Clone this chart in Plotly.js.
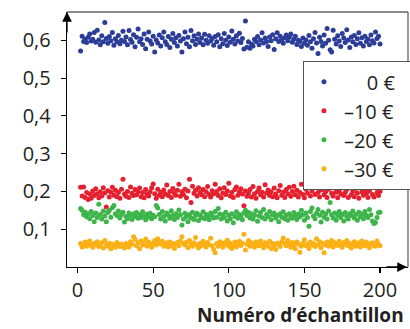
<!DOCTYPE html>
<html>
<head>
<meta charset="utf-8">
<script src="https://cdn.plot.ly/plotly-3.0.1.min.js"></script>
<style>html,body{margin:0;padding:0;background:#fff;}#chart{width:410px;height:329px;}</style>
</head>
<body>
<div id="chart"></div>
<script>
// Sample numbers (x) : 2 .. 200
const firstSample = 2;
const lastSample = 200;

// Series values, in thousandths
const blue0 = [572,611,597,603,594,608,617,598,603,621,595,627,601,588,612,596,647,605,592,610,
599,621,587,604,596,613,591,600,624,597,609,588,626,602,595,615,583,608,630,596,
604,589,617,578,603,622,598,590,611,569,601,593,614,585,607,622,596,589,610,581,
603,618,594,607,585,613,598,569,604,622,591,608,583,626,599,612,589,603,617,594,
606,588,616,600,592,612,598,605,587,610,596,615,583,604,591,618,600,586,609,595,
625,603,590,612,598,619,594,605,577,651,582,596,579,590,585,603,597,610,588,601,
620,593,606,597,584,609,599,615,576,604,620,597,611,602,592,607,614,599,608,617,
595,603,611,589,600,597,584,606,592,601,587,613,596,579,604,621,593,565,608,597,
585,614,592,631,600,575,569,627,603,590,612,598,584,618,606,594,628,601,581,609,
596,613,589,604,620,592,607,585,611,597,603,588,614,599,593,622,605,611,590];

const red10 = [211,188,212,184,197,179,193,182,201,189,207,194,183,199,188,210,196,159,202,185,
198,211,190,203,186,197,182,206,232,193,187,200,184,212,195,189,205,191,199,209,
186,197,183,205,193,188,199,210,220,194,182,206,190,198,186,204,193,217,189,200,
184,208,196,190,203,219,187,199,192,206,183,201,232,171,214,195,203,188,210,197,
191,205,186,199,213,192,185,202,194,219,200,189,207,183,196,210,192,201,222,188,
197,184,205,212,190,199,207,193,162,201,187,196,205,185,213,194,182,200,209,191,
198,185,218,196,204,189,199,186,209,193,183,202,216,190,198,184,205,194,211,187,
200,214,191,203,185,197,219,192,183,206,195,213,188,201,210,192,216,197,185,204,
214,191,199,184,206,227,195,188,209,198,183,202,193,210,189,197,205,184,214,191,
200,186,208,195,182,227,199,190,206,195,184,201,216,192,185,210,197,189,200];

const green20 = [155,150,138,145,133,141,128,147,136,120,143,131,166,139,127,148,135,120,144,150,
132,157,163,141,136,148,130,139,145,119,134,128,143,137,126,141,133,144,129,138,
131,146,135,125,140,132,142,128,137,133,163,156,139,127,147,134,122,143,137,129,
149,136,126,141,131,151,138,111,127,142,133,120,139,130,145,126,136,142,123,137,
131,146,128,139,134,125,143,136,130,147,132,155,140,127,138,131,145,122,137,128,
141,117,134,146,129,139,133,125,143,150,136,145,130,141,127,137,149,121,135,144,
131,152,127,139,134,147,125,138,143,130,136,120,141,132,146,128,137,124,141,134,
129,144,136,126,140,133,150,138,124,143,131,108,147,156,135,128,142,152,137,119,
145,132,140,127,148,171,138,130,143,124,136,147,131,139,122,144,134,127,141,136,
148,130,139,124,145,133,140,128,147,136,131,152,138,122,115,118,131,144,145];

const orange30 = [62,53,58,66,55,61,69,57,52,63,59,67,54,60,64,50,70,58,55,63,
48,60,57,52,65,59,54,61,56,50,62,58,53,67,60,80,73,56,64,48,
69,58,62,74,55,66,60,52,63,70,58,75,64,61,68,55,59,64,53,66,
57,62,49,60,65,56,69,80,62,58,66,51,70,60,55,64,78,58,50,63,
57,68,61,53,65,59,76,56,46,38,62,55,67,59,52,64,60,71,55,63,
49,58,66,53,61,68,57,63,87,45,60,70,55,64,58,52,66,61,56,69,
58,51,64,60,55,68,49,62,57,46,63,59,54,67,77,63,56,70,60,52,
65,58,48,66,61,39,55,63,72,57,60,49,66,58,62,54,75,59,67,51,
63,38,58,66,55,61,70,53,64,59,57,68,62,52,65,60,70,56,63,50,
61,67,55,59,64,53,69,60,56,66,58,51,62,64,57,55,69,60,56];

const seriesNames = ['\u2007\u20070\u00a0€', '–10\u00a0€', '–20\u00a0€', '–30\u00a0€'];
const seriesColors = ['#2b3d98', '#e5202e', '#3db54a', '#fbb016'];
const seriesData = [blue0, red10, green20, orange30];

const xTickVals = [0, 50, 100, 150, 200];
const yTickVals = [0.1, 0.2, 0.3, 0.4, 0.5, 0.6];
const xTitle = 'Numéro d’échantillon';

const samples = [];
for (let s = firstSample; s <= lastSample; s++) samples.push(s);

const traces = seriesData.map((vals, i) => ({
  type: 'scatter',
  mode: 'markers',
  name: seriesNames[i] + '\u00a0\u00a0\u2009',
  x: samples.slice(0, vals.length),
  y: vals.map(v => v / 1000),
  marker: {color: seriesColors[i], size: 5},
  hoverinfo: 'skip'
}));

const txt = '#231f20';
const layout = {
  width: 410, height: 329,
  margin: {l: 67, r: 2, t: 12, b: 62, pad: 0, autoexpand: false},
  paper_bgcolor: '#fff', plot_bgcolor: '#fff',
  separators: ',.',
  font: {family: '"Open Sans", "Noto Sans", sans-serif', size: 20, color: txt},
  showlegend: true,
  legend: {
    x: 0.691, y: 0.8076, xanchor: 'left', yanchor: 'top',
    bgcolor: '#fff', bordercolor: '#555', borderwidth: 1.3,
    font: {size: 20, color: txt}
  },
  xaxis: {
    range: [-7, 218.5], tickvals: xTickVals, ticks: 'outside', ticklen: 5,
    tickwidth: 1.2, tickcolor: '#000', showline: true, linecolor: '#000', linewidth: 1.3,
    showgrid: false, zeroline: false, tickfont: {size: 20, color: txt}
  },
  yaxis: {
    range: [0, 0.675], tickvals: yTickVals, tickformat: '.1f', ticks: 'outside', ticklen: 5,
    tickwidth: 1.2, tickcolor: '#000', showline: true, linecolor: '#000', linewidth: 1.3,
    showgrid: false, zeroline: false, tickfont: {size: 20, color: txt}, ticklabelstandoff: 6
  },
  shapes: [
    {type: 'line', xref: 'paper', yref: 'paper', x0: 0, x1: 1, y0: 1, y1: 1, line: {color: '#666', width: 1.3}},
    {type: 'line', xref: 'paper', yref: 'paper', x0: 1, x1: 1, y0: 0, y1: 1, line: {color: '#666', width: 1.3}}
  ],
  annotations: [
    {xref: 'paper', yref: 'paper', x: 0, y: 1, ax: 0, ay: 22, text: '', showarrow: true,
     arrowhead: 2, arrowsize: 1.5, arrowwidth: 1.3, arrowcolor: '#000', standoff: 0},
    {xref: 'paper', yref: 'paper', x: 0.997, y: 0, ax: -22, ay: 0, text: '', showarrow: true,
     arrowhead: 2, arrowsize: 1.5, arrowwidth: 1.3, arrowcolor: '#000', standoff: 0},
    {xref: 'paper', yref: 'paper', x: 1, y: -0.19, xanchor: 'right', yanchor: 'middle', xshift: -2,
     text: '<b>' + xTitle + '</b>', showarrow: false, font: {size: 19, color: txt}}
  ]
};

Plotly.newPlot('chart', traces, layout, {displayModeBar: false, staticPlot: true});
</script>
</body>
</html>
